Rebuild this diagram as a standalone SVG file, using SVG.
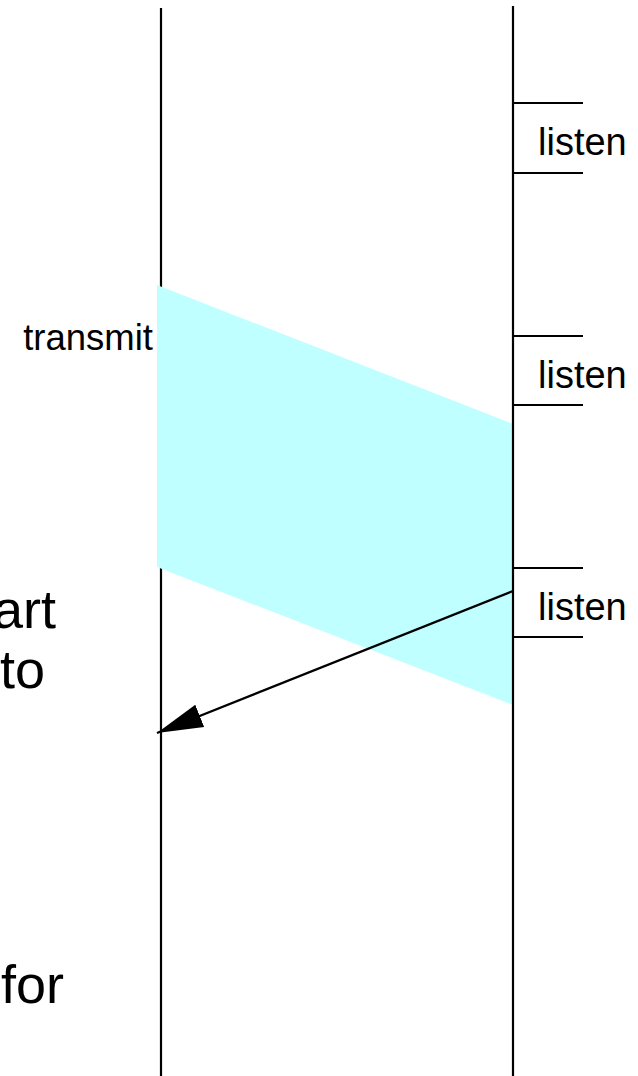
<svg xmlns="http://www.w3.org/2000/svg" width="638" height="1076" viewBox="0 0 638 1076">
<style>
.ln{stroke:#000;stroke-width:2.2;fill:none}
.t{font-family:"Liberation Sans",Arial,sans-serif;fill:#000}
.lbl{font-size:38px}
.big{font-size:54px}
</style>
<defs>
<marker id="ah" markerUnits="userSpaceOnUse" markerWidth="48" markerHeight="28" viewBox="0 0 48 28" refX="46" refY="14" orient="auto">
<path d="M0,2 L46,14 L0,26 Z" fill="#000"/>
</marker>
</defs>
<rect width="638" height="1076" fill="#fff"/>
<g id="lifeline-left"><line class="ln" x1="161" y1="8" x2="161" y2="1076"/></g>
<g id="transmit-band"><polygon points="157,285 513,424 513,705 157,567" fill="#c0ffff"/></g>
<g id="lifeline-right"><line class="ln" x1="513" y1="6" x2="513" y2="1076"/></g>
<g id="listen1">
<line class="ln" x1="513" y1="103" x2="583" y2="103"/>
<line class="ln" x1="513" y1="173" x2="583" y2="173"/>
<text class="t lbl" x="538" y="155">listen</text>
</g>
<g id="listen2">
<line class="ln" x1="513" y1="336" x2="583" y2="336"/>
<line class="ln" x1="513" y1="405" x2="583" y2="405"/>
<text class="t lbl" x="538" y="388">listen</text>
</g>
<g id="listen3">
<line class="ln" x1="513" y1="568" x2="583" y2="568"/>
<line class="ln" x1="513" y1="637" x2="583" y2="637"/>
<text class="t lbl" x="538" y="620">listen</text>
</g>
<g id="transmit-label"><text class="t" font-size="36.5" x="153" y="350" text-anchor="end">transmit</text></g>
<g id="connectors"><line class="ln" x1="513" y1="591" x2="157" y2="733" marker-end="url(#ah)"/></g>
<g id="left-text">
<text class="t big" x="56" y="628" text-anchor="end">art</text>
<text class="t big" x="45" y="688" text-anchor="end">to</text>
<text class="t big" x="64" y="1003" text-anchor="end">for</text>
</g>
</svg>
